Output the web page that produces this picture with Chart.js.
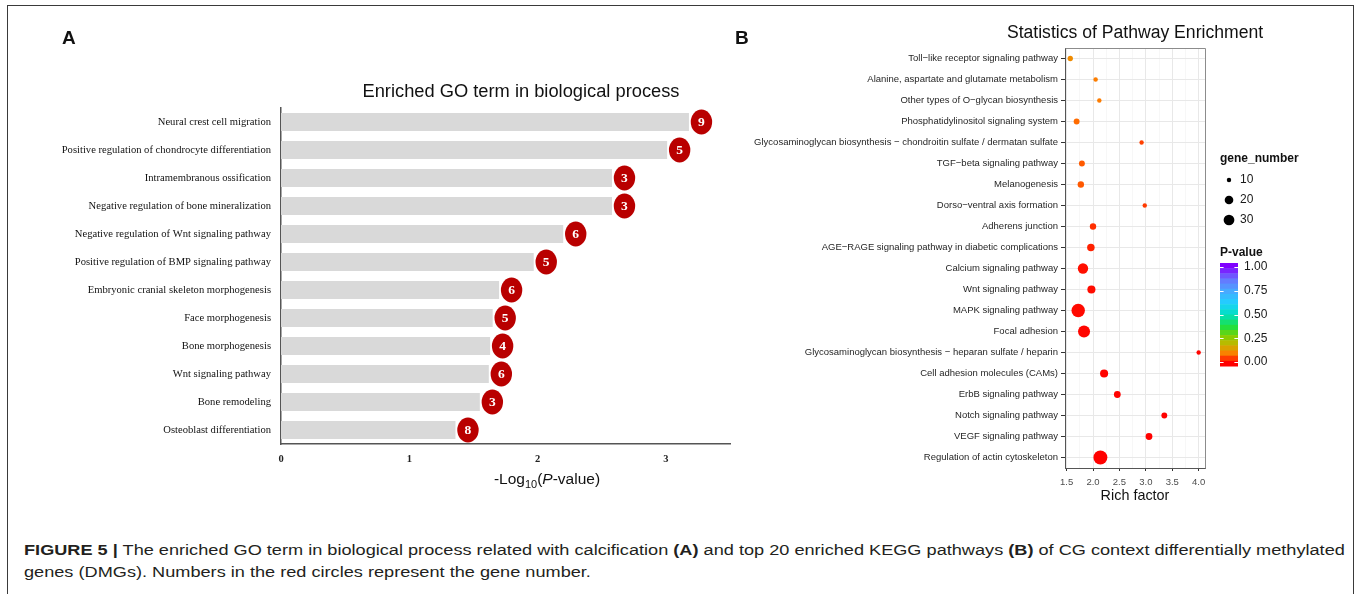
<!DOCTYPE html>
<html>
<head>
<meta charset="utf-8">
<script src="https://cdn.jsdelivr.net/npm/chart.js@4.4.1/dist/chart.umd.min.js"></script>
<style>
  html, body { margin: 0; padding: 0; background: #fff; }
  body { width: 1360px; height: 594px; position: relative; overflow: hidden; font-family: 'Liberation Sans', Arial, sans-serif; }
  #frame { position: absolute; left: 7px; top: 5px; width: 1347px; height: 700px; border: 1.6px solid #3a3a3a; box-sizing: border-box; }
  canvas { position: absolute; top: 0; }
  #goChart { left: 0; }
  #keggChart { left: 700px; }
  .cap { position: absolute; left: 24px; font-size: 14px; line-height: 16px; color: #231f20; white-space: nowrap; transform-origin: 0 50%; }
  .cap b { font-weight: bold; }
</style>
</head>
<body>
<div id="frame"></div>
<canvas id="goChart" width="740" height="520" style="width:740px;height:520px"></canvas>
<canvas id="keggChart" width="660" height="520" style="width:660px;height:520px"></canvas>
<div class="cap" id="cap1" style="top:542px"><b>FIGURE 5 |</b> The enriched GO term in biological process related with calcification <b>(A)</b> and top 20 enriched KEGG pathways <b>(B)</b> of CG context differentially methylated</div>
<div class="cap" id="cap2" style="top:564px">genes (DMGs). Numbers in the red circles represent the gene number.</div>
<script>
// ---- Panel A: enriched GO terms (biological process) ----
const goTerms = [
  'Neural crest cell migration',
  'Positive regulation of chondrocyte differentiation',
  'Intramembranous ossification',
  'Negative regulation of bone mineralization',
  'Negative regulation of Wnt signaling pathway',
  'Positive regulation of BMP signaling pathway',
  'Embryonic cranial skeleton morphogenesis',
  'Face morphogenesis',
  'Bone morphogenesis',
  'Wnt signaling pathway',
  'Bone remodeling',
  'Osteoblast differentiation'
];
const goLogP  = [3.18, 3.01, 2.58, 2.58, 2.20, 1.97, 1.70, 1.65, 1.63, 1.62, 1.55, 1.36];
const goGenes = [9, 5, 3, 3, 6, 5, 6, 5, 4, 6, 3, 8];
const goTicks = [0, 1, 2, 3];

// ---- Panel B: top 20 enriched KEGG pathways ----
const keggPathways = [
  'Toll\u2212like receptor signaling pathway',
  'Alanine, aspartate and glutamate metabolism',
  'Other types of O\u2212glycan biosynthesis',
  'Phosphatidylinositol signaling system',
  'Glycosaminoglycan biosynthesis \u2212 chondroitin sulfate / dermatan sulfate',
  'TGF\u2212beta signaling pathway',
  'Melanogenesis',
  'Dorso\u2212ventral axis formation',
  'Adherens junction',
  'AGE\u2212RAGE signaling pathway in diabetic complications',
  'Calcium signaling pathway',
  'Wnt signaling pathway',
  'MAPK signaling pathway',
  'Focal adhesion',
  'Glycosaminoglycan biosynthesis \u2212 heparan sulfate / heparin',
  'Cell adhesion molecules (CAMs)',
  'ErbB signaling pathway',
  'Notch signaling pathway',
  'VEGF signaling pathway',
  'Regulation of actin cytoskeleton'
];
const richFactor = [1.57, 2.05, 2.12, 1.69, 2.92, 1.79, 1.77, 2.98, 2.00, 1.96, 1.81, 1.97, 1.72, 1.83, 4.00, 2.21, 2.46, 3.35, 3.06, 2.14];
const geneNumber = [11, 10, 10, 12, 10, 12, 13, 10, 13, 16, 28, 18, 48, 38, 10, 18, 14, 12, 14, 52];
const pValue     = [0.110, 0.085, 0.083, 0.070, 0.042, 0.059, 0.058, 0.038, 0.031, 0.021, 0.010, 0.008, 0.006, 0.004, 0.003, 0.002, 0.0015, 0.001, 0.0008, 0.0005];
const richTicks  = [1.5, 1.75, 2.0, 2.25, 2.5, 2.75, 3.0, 3.25, 3.5, 3.75, 4.0];
const geneLegend = [10, 20, 30];
const pLegend    = [0, 0.25, 0.5, 0.75, 1];

Chart.defaults.font.family = "'Liberation Sans', Arial, sans-serif";

// colour ramp used for P-value (red -> orange -> green -> cyan -> blue -> violet)
const rampStops = [
  [0.00, [255, 0, 0]], [0.08, [255, 122, 0]], [0.18, [200, 180, 0]], [0.27, [128, 208, 0]],
  [0.37, [32, 224, 64]], [0.50, [0, 224, 192]], [0.62, [32, 208, 255]], [0.75, [74, 168, 255]],
  [0.88, [106, 112, 255]], [1.00, [128, 0, 255]]
];
function rampColor(v) {
  v = Math.max(0, Math.min(1, v));
  for (let i = 1; i < rampStops.length; i++) {
    const [p1, c1] = rampStops[i];
    const [p0, c0] = rampStops[i - 1];
    if (v <= p1) {
      const t = (v - p0) / (p1 - p0);
      const c = c0.map((a, k) => Math.round(a + (c1[k] - a) * t));
      return `rgb(${c[0]},${c[1]},${c[2]})`;
    }
  }
  return 'rgb(128,0,255)';
}
// point size: dot area grows with gene number
function dotRadius(n) {
  return (3.4 + 1.62 * Math.sqrt(Math.max(0, n - 9.6))) / 2;
}

// ---------- Panel A ----------
const goDecor = {
  id: 'goDecor',
  afterDatasetsDraw(chart) {
    const ctx = chart.ctx;
    const meta = chart.getDatasetMeta(0);
    meta.data.forEach((bar, i) => {
      const cx = bar.x + 12.5, cy = bar.y;
      ctx.save();
      ctx.beginPath();
      ctx.ellipse(cx, cy, 10.7, 12.4, 0, 0, Math.PI * 2);
      ctx.fillStyle = '#b90000';
      ctx.fill();
      ctx.fillStyle = '#ffffff';
      ctx.font = "bold 13.5px 'Liberation Serif', serif";
      ctx.textAlign = 'center';
      ctx.textBaseline = 'middle';
      ctx.fillText(String(goGenes[i]), cx, cy + 1);
      ctx.restore();
    });
  },
  afterDraw(chart) {
    const ctx = chart.ctx;
    ctx.save();
    ctx.fillStyle = '#111';
    ctx.textBaseline = 'middle';
    ctx.font = "bold 19px 'Liberation Sans', Arial";
    ctx.textAlign = 'left';
    ctx.fillText('A', 62, 39);
    ctx.font = "18.3px 'Liberation Sans', Arial";
    ctx.textAlign = 'center';
    ctx.fillText('Enriched GO term in biological process', 521, 92);
    // axis title: -Log10(P-value)
    const main = "15.5px 'Liberation Sans', Arial";
    const ital = "italic 15.5px 'Liberation Sans', Arial";
    const sub = "11px 'Liberation Sans', Arial";
    const parts = [['-Log', main, 0], ['10', sub, 4], ['(', main, 0], ['P', ital, 0], ['-value)', main, 0]];
    let total = 0;
    parts.forEach(p => { ctx.font = p[1]; total += ctx.measureText(p[0]).width; });
    let x = 547 - total / 2;
    ctx.textAlign = 'left';
    ctx.textBaseline = 'alphabetic';
    parts.forEach(p => { ctx.font = p[1]; ctx.fillText(p[0], x, 484 + p[2]); x += ctx.measureText(p[0]).width; });
    ctx.restore();
  }
};

new Chart(document.getElementById('goChart'), {
  type: 'bar',
  data: {
    labels: goTerms,
    datasets: [{ data: goLogP, backgroundColor: '#d9d9d9', barPercentage: 18 / 28, categoryPercentage: 1 }]
  },
  options: {
    indexAxis: 'y',
    responsive: false,
    animation: false,
    layout: { padding: { top: 108, right: 10, left: 0, bottom: 0 } },
    plugins: { legend: { display: false }, tooltip: { enabled: false } },
    scales: {
      x: {
        min: 0, max: 3.5,
        afterBuildTicks: s => { s.ticks = goTicks.map(v => ({ value: v })); },
        ticks: { font: { family: "'Liberation Serif', serif", weight: 'bold', size: 10.5 }, color: '#222', padding: 9, maxRotation: 0 },
        grid: { display: false, drawTicks: false },
        border: { display: true, color: '#555', width: 1.5 },
        afterFit: s => { s.height = 76; }
      },
      y: {
        ticks: { font: { family: "'Liberation Serif', serif", size: 10.6 }, color: '#111', padding: 10, autoSkip: false },
        grid: { display: false, drawTicks: false },
        border: { display: true, color: '#555', width: 1.5 },
        afterFit: s => { s.width = 281; }
      }
    }
  },
  plugins: [goDecor]
});

// ---------- Panel B ----------
const isMajor = v => Math.abs(v * 2 - Math.round(v * 2)) < 1e-6;

const keggDecor = {
  id: 'keggDecor',
  afterDraw(chart) {
    const ctx = chart.ctx;
    const a = chart.chartArea;
    ctx.save();
    // panel frame (top and right edges)
    ctx.strokeStyle = '#8c8c8c';
    ctx.lineWidth = 1;
    ctx.beginPath();
    ctx.moveTo(Math.round(a.left) + 0.5, Math.round(a.top) + 0.5);
    ctx.lineTo(Math.round(a.right) + 0.5, Math.round(a.top) + 0.5);
    ctx.lineTo(Math.round(a.right) + 0.5, Math.round(a.bottom) + 0.5);
    ctx.stroke();

    ctx.fillStyle = '#111';
    ctx.textBaseline = 'middle';
    ctx.font = "bold 19px 'Liberation Sans', Arial";
    ctx.textAlign = 'left';
    ctx.fillText('B', 35, 39);
    ctx.font = "17.6px 'Liberation Sans', Arial";
    ctx.textAlign = 'center';
    ctx.fillText('Statistics of Pathway Enrichment', (a.left + a.right) / 2, 33);
    ctx.font = "14.4px 'Liberation Sans', Arial";
    ctx.fillText('Rich factor', (a.left + a.right) / 2, 496);

    // size legend
    const lx = 520;
    ctx.textAlign = 'left';
    ctx.font = "bold 12px 'Liberation Sans', Arial";
    ctx.fillStyle = '#111';
    ctx.fillText('gene_number', lx, 159);
    ctx.font = "12px 'Liberation Sans', Arial";
    geneLegend.forEach((n, i) => {
      const y = 180 + i * 20;
      ctx.beginPath();
      ctx.arc(lx + 9, y, dotRadius(n), 0, Math.PI * 2);
      ctx.fillStyle = '#000';
      ctx.fill();
      ctx.fillStyle = '#1a1a1a';
      ctx.fillText(String(n), lx + 20, y);
    });

    // colour bar legend
    ctx.font = "bold 12px 'Liberation Sans', Arial";
    ctx.fillStyle = '#111';
    ctx.fillText('P-value', lx, 253);
    const barTop = 263, barBottom = 366, barW = 18;
    const yFor = v => 362 - 95 * v;
    const bins = 20;
    for (let b = 0; b < bins; b++) {
      const y0 = barTop + (barBottom - barTop) * b / bins;
      const y1 = barTop + (barBottom - barTop) * (b + 1) / bins;
      const v = (362 - (y0 + y1) / 2) / 95;
      ctx.fillStyle = rampColor(v);
      ctx.fillRect(lx, y0, barW, y1 - y0 + 0.5);
    }
    ctx.strokeStyle = '#ffffff';
    ctx.lineWidth = 1;
    ctx.font = "12px 'Liberation Sans', Arial";
    pLegend.forEach(v => {
      const y = Math.round(yFor(v)) + 0.5;
      ctx.beginPath();
      ctx.moveTo(lx, y); ctx.lineTo(lx + 3.6, y);
      ctx.moveTo(lx + barW - 3.6, y); ctx.lineTo(lx + barW, y);
      ctx.stroke();
      ctx.fillStyle = '#1a1a1a';
      ctx.fillText(v.toFixed(2), lx + 24, yFor(v));
    });
    ctx.restore();
  }
};

new Chart(document.getElementById('keggChart'), {
  type: 'bubble',
  data: {
    datasets: [{
      data: keggPathways.map((p, i) => ({ x: richFactor[i], y: p, r: dotRadius(geneNumber[i]) })),
      backgroundColor: pValue.map(rampColor),
      borderWidth: 0,
      hoverBorderWidth: 0
    }]
  },
  options: {
    responsive: false,
    animation: false,
    layout: { padding: { top: 48, right: 155, left: 0, bottom: 0 } },
    plugins: { legend: { display: false }, tooltip: { enabled: false } },
    scales: {
      x: {
        type: 'linear', position: 'bottom',
        min: 1.47, max: 4.12,
        afterBuildTicks: s => { s.ticks = richTicks.map(v => ({ value: v })); },
        ticks: {
          callback: v => (isMajor(v) ? v.toFixed(1) : ''),
          font: { size: 9.5 }, color: '#4d4d4d', padding: 6, autoSkip: false, maxRotation: 0
        },
        grid: {
          color: c => (c.tick && isMajor(c.tick.value) ? '#e8e8e8' : '#f3f3f3'),
          lineWidth: c => (c.tick && isMajor(c.tick.value) ? 1 : 0.7),
          tickLength: 3,
          tickColor: c => (c.tick && isMajor(c.tick.value) ? '#333' : 'rgba(0,0,0,0)')
        },
        border: { display: true, color: '#555', width: 1 },
        afterFit: s => { s.height = 52; }
      },
      y: {
        type: 'category',
        labels: keggPathways,
        offset: true,
        ticks: { font: { size: 9.5 }, color: '#262626', padding: 3, autoSkip: false },
        grid: { color: '#e8e8e8', lineWidth: 1, tickLength: 4, tickColor: '#333', tickWidth: 1 },
        border: { display: true, color: '#555', width: 1 },
        afterFit: s => { s.width = 365; }
      }
    }
  },
  plugins: [keggDecor]
});

// caption: fitted to the figure width
(function fitCaption() {
  const l1 = document.getElementById('cap1');
  const l2 = document.getElementById('cap2');
  const s = 1321 / l1.scrollWidth;
  [l1, l2].forEach(el => { el.style.transform = `scaleX(${s})`; });
})();
</script>
</body>
</html>
